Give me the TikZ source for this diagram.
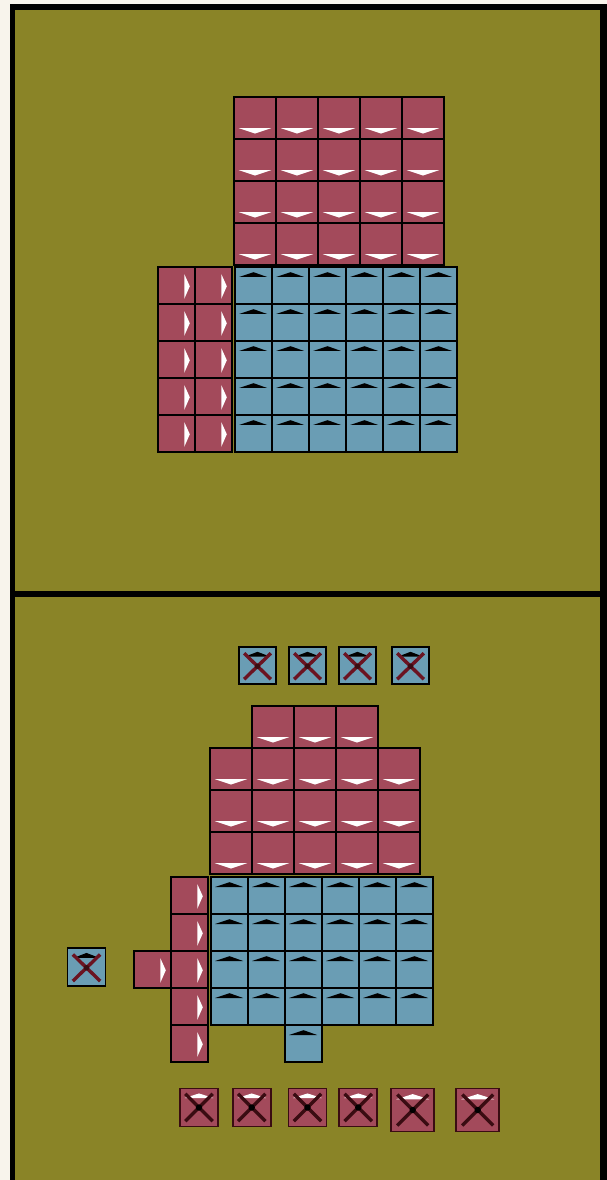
\documentclass[tikz,border=0pt]{standalone}
\usepackage[dvipsnames]{xcolor}
\usepackage{tikz}
\usetikzlibrary{positioning}
\definecolor{paper}{HTML}{F8F4EC}
\definecolor{field}{HTML}{8A8427}
\definecolor{cellred}{HTML}{A34A5B}
\definecolor{cellblue}{HTML}{6A9DB4}
\definecolor{crossred}{HTML}{6B1422}
\definecolor{crossdark}{HTML}{3A0C12}

\begin{document}
\begin{tikzpicture}[
  x=1pt, y=1pt,
  node distance=0pt,
  cell/.style={draw=black,line width=1.9pt,inner sep=0pt,outer sep=0pt,
    minimum size=#1pt},
  downcell/.style={cell=42,fill=cellred,path picture={
    \begin{scope}[shift={(path picture bounding box.center)},x=42pt,y=42pt]
      \fill[white] (-0.39,-0.24) -- (0.39,-0.24) -- (0,-0.37) -- cycle;
    \end{scope}}},
  upcell/.style={cell=37,fill=cellblue,path picture={
    \begin{scope}[shift={(path picture bounding box.center)},x=37pt,y=37pt]
      \fill[black] (-0.39,0.23) -- (0.37,0.23) -- (0,0.36) -- cycle;
    \end{scope}}},
  rightcell/.style={cell=37,fill=cellred,path picture={
    \begin{scope}[shift={(path picture bounding box.center)},x=37pt,y=37pt]
      \fill[white] (0.21,0.31) -- (0.36,-0.02) -- (0.21,-0.36) -- cycle;
    \end{scope}}},
  xblue/.style={cell=#1,fill=cellblue,path picture={
    \begin{scope}[shift={(path picture bounding box.center)},x=#1pt,y=#1pt]
      \fill[black] (-0.34,0.24) -- (0.34,0.24) -- (0,0.37) -- cycle;
      \draw[crossred,line width=3.4pt] (-0.36,0.33) -- (0.36,-0.37)
        (0.36,0.33) -- (-0.36,-0.37);
      \fill[crossdark] (0,-0.02) circle (2.8pt);
    \end{scope}}},
  xred/.style={cell=#1,fill=cellred,draw=crossdark,path picture={
    \begin{scope}[shift={(path picture bounding box.center)},x=#1pt,y=#1pt]
      \fill[white] (-0.38,0.25) -- (0.38,0.25) -- (0,0.37) -- cycle;
      \draw[crossdark,line width=3.4pt] (-0.36,0.36) -- (0.36,-0.36)
        (0.36,0.36) -- (-0.36,-0.36);
      \fill[black] (0,0) circle (3.2pt);
    \end{scope}}}
]
\useasboundingbox (0,0) rectangle (607,-1180);
\fill[paper] (0,0) rectangle (607,-1180);
\fill[black] (10,-4) rectangle (607,-1180);
\fill[field] (15,-10) rectangle (600,-591);
\fill[field] (15,-597) rectangle (600,-1180);

% upper panel
\foreach \c in {1,...,5}
  \foreach \r in {1,...,4}
    \node[downcell] (ta-\c-\r) at ({213+42*\c},{-76-42*\r}) {};
\foreach \c in {1,2}
  \foreach \r in {1,...,5}
    \node[rightcell] (tc-\c-\r) at ({139.5+37*\c},{-248.5-37*\r}) {};
\foreach \c in {1,...,6}
  \foreach \r in {1,...,5}
    \node[upcell] (tb-\c-\r) at ({216.5+37*\c},{-248.5-37*\r}) {};

% lower panel
\foreach \x [count=\i] in {257.5,307.5,357.5,410.5}
  \node[xblue=37] (bx-\i) at (\x,-665.5) {};
\foreach \c in {2,3,4}
  \node[downcell] (ba-\c-1) at ({189+42*\c},-727) {};
\foreach \c in {1,...,5}
  \foreach \r in {2,3,4}
    \node[downcell] (ba-\c-\r) at ({189+42*\c},{-685-42*\r}) {};
\foreach \r in {1,...,5}
  \node[rightcell] (bc-\r) at (189.5,{-858.5-37*\r}) {};
\node[rightcell,left=of bc-3] (bc-out) {};
\foreach \c in {1,...,6}
  \foreach \r in {1,...,4}
    \node[upcell] (bb-\c-\r) at ({192.5+37*\c},{-858.5-37*\r}) {};
\node[upcell,below=of bb-3-4] (bb-out) {};
\node[xblue=38] (bx-out) at (86.5,-967) {};
\node[xred=38] (rx-1) at (199,-1107.5) {};
\node[xred=38] (rx-2) at (251.7,-1107.5) {};
\node[xred=38] (rx-3) at (307.5,-1107.5) {};
\node[xred=38] (rx-4) at (358.3,-1107.5) {};
\node[xred=43] (rx-5) at (412.7,-1110) {};
\node[xred=43] (rx-6) at (477.7,-1110) {};
\end{tikzpicture}
\end{document}
